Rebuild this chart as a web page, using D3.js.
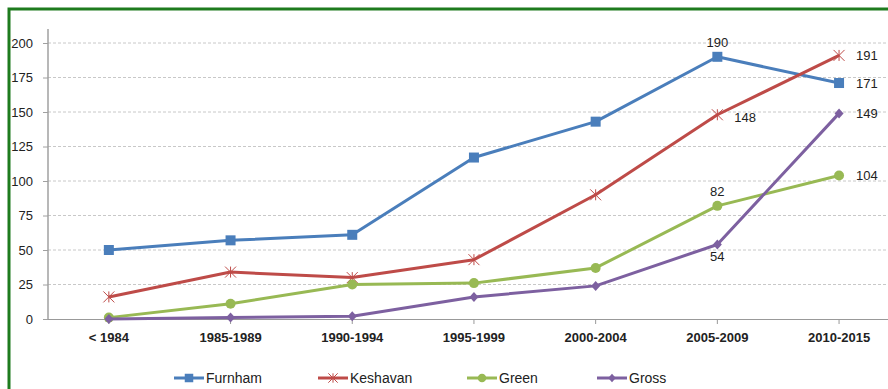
<!DOCTYPE html>
<html><head><meta charset="utf-8">
<script src="https://cdn.jsdelivr.net/npm/d3@7"></script>
<style>body{margin:0;background:#fff;}svg{display:block;font-family:"Liberation Sans",Arial,sans-serif;}</style>
</head><body><svg id="c" width="888" height="389"></svg>
<script>
const categories = ["< 1984","1985-1989","1990-1994","1995-1999","2000-2004","2005-2009","2010-2015"];
const furnham = [50,57,61,117,143,190,171];
const keshavan = [16,34,30,43,90,148,191];
const green = [1,11,25,26,37,82,104];
const gross = [0,1,2,16,24,54,149];
const yTicks = [0,25,50,75,100,125,150,175,200];
const seriesNames = ["Furnham","Keshavan","Green","Gross"];
const seriesColors = ["#4a7ebb","#be4b48","#98b954","#7d60a0"];
const seriesMarkers = ["square","star","circle","diamond"];
// data labels: [seriesIndex, categoryIndex, position]
const dataLabels = [[0,5,"above"],[1,6,"right"],[0,6,"right"],[1,5,"rightbelow"],[3,6,"right"],[2,6,"right"],[2,5,"above"],[3,5,"below"]];

const svg = d3.select("#c");
const series = [furnham,keshavan,green,gross];
const axisX = 48, y0 = 319, yTop = 43;
const x = d3.scaleBand().domain(categories).range([axisX, axisX + 7*121.7]);
const y = d3.scaleLinear().domain([0,200]).range([y0, yTop]);
const cx = c => x(c) + x.bandwidth()/2;

// border
svg.append("path").attr("d","M9,389 V9 H888").attr("fill","none").attr("stroke","#1e7b1e").attr("stroke-width",3);

// gridlines
svg.append("g").selectAll("line").data(yTicks.filter(d=>d>0)).join("line")
  .attr("x1",axisX).attr("x2",888).attr("y1",d=>y(d)).attr("y2",d=>y(d))
  .attr("stroke","#c8c8c8").attr("stroke-dasharray","3,2").attr("stroke-width",1);

// y axis
const ya = svg.append("g").attr("transform",`translate(${axisX},0)`)
  .call(d3.axisLeft(y).tickValues(yTicks).tickSize(5).tickPadding(10));
ya.select(".domain").remove();
ya.append("line").attr("x1",0).attr("x2",0).attr("y1",29).attr("y2",y0).attr("stroke","#a0a0a0").attr("stroke-width",1.5);
ya.selectAll(".tick line").attr("stroke","#a0a0a0");
ya.selectAll("text").attr("fill","#222").attr("font-size",13);

// x axis
const xa = svg.append("g").attr("transform",`translate(0,${y0})`)
  .call(d3.axisBottom(x).tickSize(5).tickPadding(9));
xa.select(".domain").attr("d",`M${axisX},0.5H888`).attr("stroke","#999").attr("stroke-width",1.2);
xa.selectAll(".tick line").attr("stroke","#999");
xa.selectAll(".tick text").attr("fill","#222").attr("font-size",13).attr("font-weight","bold");

function marker(g, type, color, px, py, big){
  const s = big ? 1 : 0.85;
  if(type==="square") g.append("rect").attr("x",px-5*s).attr("y",py-5*s).attr("width",10*s).attr("height",10*s).attr("fill",color);
  else if(type==="circle") g.append("circle").attr("cx",px).attr("cy",py).attr("r",5*s).attr("fill",color);
  else if(type==="diamond") g.append("path").attr("d",`M${px},${py-5*s}L${px+4.5*s},${py}L${px},${py+5*s}L${px-4.5*s},${py}Z`).attr("fill",color);
  else {
    const r=5.5*s;
    g.append("path").attr("d",`M${px-r},${py-r}L${px+r},${py+r}M${px-r},${py+r}L${px+r},${py-r}M${px},${py-r}L${px},${py+r}`)
      .attr("stroke",color).attr("stroke-width",1).attr("fill","none");
  }
}

const line = d3.line().x((d,i)=>cx(categories[i])).y(d=>y(d));
series.forEach((s,k)=>{
  const g = svg.append("g");
  g.append("path").attr("d",line(s)).attr("fill","none").attr("stroke",seriesColors[k]).attr("stroke-width",3).attr("stroke-linejoin","round");
  s.forEach((v,i)=>marker(g,seriesMarkers[k],seriesColors[k],cx(categories[i]),y(v),true));
});

// data labels
dataLabels.forEach(([k,i,pos])=>{
  const v = series[k][i]; let px = cx(categories[i]), py = y(v), anchor="middle";
  if(pos==="above"){ py -= 10; }
  else if(pos==="below"){ py += 17; }
  else if(pos==="right"){ px += 17; py += 4.5; anchor="start"; }
  else if(pos==="rightbelow"){ px += 17; py += 7; anchor="start"; }
  svg.append("text").attr("x",px).attr("y",py).attr("text-anchor",anchor).attr("font-size",13).attr("fill","#222").text(v);
});

// legend
const legendX = [174,318,467,597];
seriesNames.forEach((n,k)=>{
  const g = svg.append("g");
  const lx = legendX[k], ly = 378;
  g.append("line").attr("x1",lx).attr("x2",lx+30).attr("y1",ly).attr("y2",ly).attr("stroke",seriesColors[k]).attr("stroke-width",3);
  marker(g,seriesMarkers[k],seriesColors[k],lx+15,ly,false);
  g.append("text").attr("x",lx+32).attr("y",ly+5).attr("font-size",14).attr("fill","#222").text(n);
});
</script></body></html>
